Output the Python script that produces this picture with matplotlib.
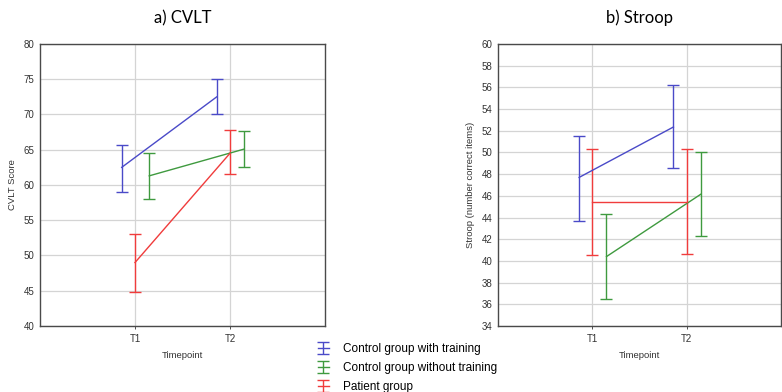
import numpy as np
import matplotlib.pyplot as plt

plt.rcParams['font.family'] = ['Liberation Sans', 'DejaVu Sans']

timepoints = ['T1', 'T2']
groups = ['Control group with training', 'Control group without training', 'Patient group']
colors = ['#4a4ac8', '#3f9a3f', '#f03c3c']
offsets = [-0.14, 0.15, 0.0]

# CVLT: means, lower and upper bounds of the error bars
cvlt_mean = [[62.5, 72.5], [61.3, 65.1], [49.0, 64.5]]
cvlt_low = [[59.0, 70.0], [58.0, 62.6], [44.8, 61.5]]
cvlt_high = [[65.7, 75.0], [64.6, 67.6], [53.1, 67.8]]

# Stroop: means, lower and upper bounds
stroop_mean = [[47.7, 52.35], [40.4, 46.15], [45.4, 45.4]]
stroop_low = [[43.7, 48.6], [36.5, 42.3], [40.5, 40.6]]
stroop_high = [[51.5, 56.25], [44.35, 50.0], [50.35, 50.3]]

fig = plt.figure(figsize=(7.82, 3.92), dpi=100)
ax1 = fig.add_axes([40 / 782, 66 / 392, 285 / 782, 282 / 392])
ax2 = fig.add_axes([498 / 782, 66 / 392, 283 / 782, 282 / 392])


def draw(ax, means, lows, highs, ylim, yticks, ylabel, title):
    x = np.arange(1, len(timepoints) + 1)
    conts = []
    for g in range(len(groups)):
        m = np.array(means[g])
        lo = m - np.array(lows[g])
        hi = np.array(highs[g]) - m
        c = ax.errorbar(x + offsets[g], m, yerr=[lo, hi], color=colors[g],
                        linewidth=1.0, elinewidth=1.0, capsize=4, capthick=1.0,
                        zorder=3)
        conts.append(c)
    ax.set_xlim(0, 3)
    ax.set_ylim(*ylim)
    ax.set_yticks(yticks)
    ax.set_xticks(x)
    ax.set_xticklabels(timepoints)
    ax.grid(True, color='#d4d4d4', linewidth=0.9)
    ax.set_axisbelow(True)
    for s in ax.spines.values():
        s.set_color('#4a4a4a')
        s.set_linewidth(1.0)
    ax.tick_params(axis='both', labelsize=7, colors='#333333', length=2.5,
                   width=0.6)
    ax.tick_params(axis='y', length=0, pad=4)
    ax.set_xlabel('Timepoint', fontsize=6.8, color='#333333', labelpad=5)
    ax.set_ylabel(ylabel, fontsize=6.8, color='#333333', labelpad=5)
    ax.set_title(title, fontsize=12, family=['Lato', 'DejaVu Sans'], pad=15)
    return conts


handles = draw(ax1, cvlt_mean, cvlt_low, cvlt_high, (40, 80), np.arange(40, 81, 5),
               'CVLT Score', 'a) CVLT')
draw(ax2, stroop_mean, stroop_low, stroop_high, (34, 60), np.arange(34, 61, 2),
     'Stroop (number correct items)', 'b) Stroop')

fig.legend(handles, groups, loc='upper left', bbox_to_anchor=(312 / 782, 1 - 337 / 392),
           frameon=False, fontsize=8.5, handlelength=0.9, handletextpad=1.2,
           labelspacing=0.6, borderpad=0)

fig.savefig('out.png', dpi=100)
